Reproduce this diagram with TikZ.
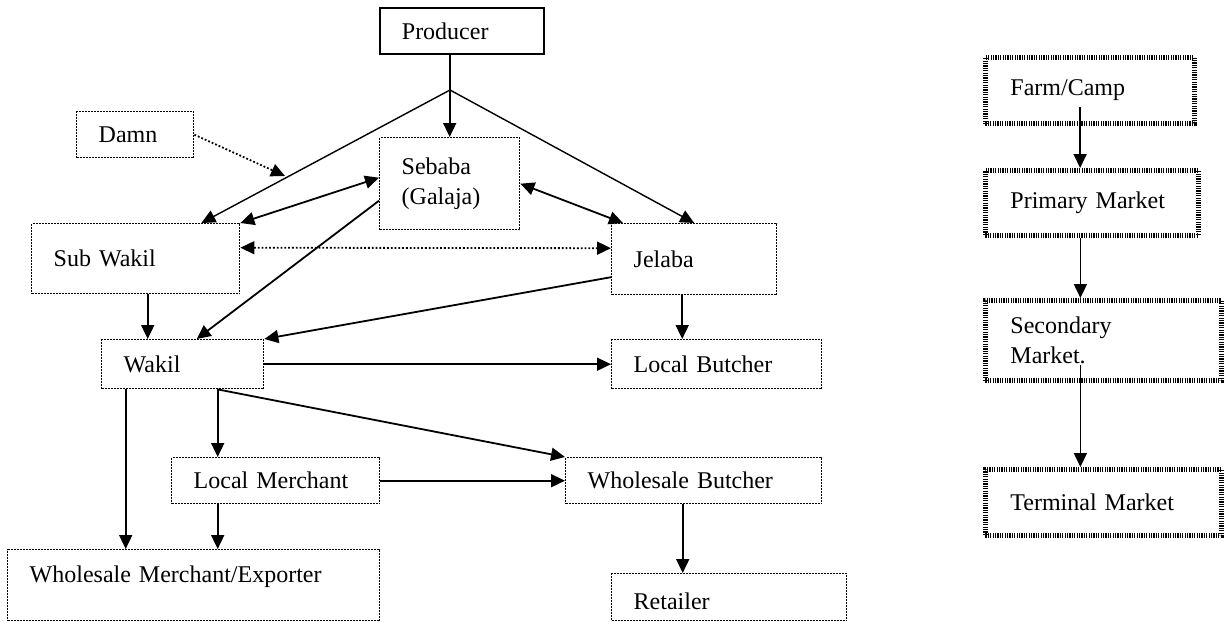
\documentclass[tikz,border=0pt]{standalone}
\usepackage{fontspec}
\setmainfont{Liberation Serif}
\usetikzlibrary{arrows.meta}
\tikzset{
  box/.style={draw, line width=0.7pt, dash pattern=on 1pt off 0.5pt, anchor=north west,
    inner xsep=11pt, inner ysep=2pt, align=left, font=\fontsize{12}{15}\selectfont},
  mbox/.style={box, line width=2.4pt, dash pattern=on 0.6pt off 0.6pt, inner xsep=12.5pt},
  arr/.style={-{Triangle[length=7pt,width=6.5pt]}, line width=0.9pt},
  dbl/.style={{Triangle[length=7pt,width=6.5pt]}-{Triangle[length=7pt,width=6.5pt]}, line width=0.9pt},
}
\begin{document}
\begin{tikzpicture}[x=0.5pt,y=-0.5pt]
  \useasboundingbox (0,0) rectangle (1225,621);
  % channel
  \node[box,solid,line width=0.9pt,text width=60pt,minimum height=23pt] (P) at (379,7) {Producer};
  \node[box,text width=36.5pt,minimum height=23pt] (D) at (76,111) {Damn};
  \node[box,text width=48pt,minimum height=46pt] (S) at (379,137) {Sebaba\\(Galaja)};
  \node[box,text width=82pt,minimum height=35pt] (SW) at (31,223) {Sub Wakil};
  \node[box,text width=60.5pt,minimum height=35.5pt] (J) at (611,223) {Jelaba};
  \node[box,text width=59pt,minimum height=24.5pt] (W) at (101,339) {Wakil};
  \node[box,text width=83pt,minimum height=24.5pt] (LB) at (611,339) {Local Butcher};
  \node[box,text width=82pt,minimum height=23pt] (LM) at (171,457) {Local Merchant};
  \node[box,text width=106pt,minimum height=23pt] (WB) at (565,457) {Wholesale Butcher};
  \node[box,text width=164pt,minimum height=35.5pt,text depth=11pt] (WM) at (7,549) {Wholesale Merchant/Exporter};
  \node[box,text width=95.5pt,minimum height=23.5pt,text height=12pt] (R) at (611,573) {Retailer};
  \coordinate (fork) at (450,90);
  \coordinate (dend) at (285,176);
  \draw[arr] (P.south -| S.north) -- (S.north);
  \draw[arr,line width=0.7pt] (fork) -- ([xshift=-19.5pt]SW.north east);
  \draw[arr,line width=0.7pt] (fork) -- (J.north);
  \draw[arr,densely dotted] (D.east) -- (dend);
  \draw[dbl] (SW.north east) -- ([yshift=3pt]S.west);
  \draw[dbl] (S.east) -- ([xshift=6pt]J.north west);
  \draw[dbl,densely dotted] ([yshift=5.5pt]SW.east) -- ([yshift=5.5pt]J.west);
  \draw[arr] ([yshift=-8.5pt]S.west) -- ([xshift=7pt]W.north);
  \draw[arr] ([yshift=-9pt]J.west) -- (W.north east);
  \draw[arr] ([xshift=6pt]SW.south) -- ([xshift=6pt]SW.south |- W.north);
  \draw[arr] ([xshift=-6pt]J.south) -- ([xshift=-6pt]J.south |- LB.north);
  \draw[arr] (W.east) -- (W.east -| LB.west);
  \draw[arr] ([xshift=-28.5pt]W.south) -- ([xshift=-28.5pt]W.south |- WM.north);
  \draw[arr] ([xshift=17.5pt]W.south) -- ([xshift=17.5pt]W.south |- LM.north);
  \draw[arr] ([xshift=17.5pt]W.south) -- (WB.north west);
  \draw[arr] (LM.east) -- (WB.west);
  \draw[arr] ([xshift=-29pt]LM.south) -- ([xshift=-29pt]LM.south |- WM.north);
  \draw[arr] ([xshift=-5.5pt]WB.south) -- ([xshift=-5.5pt]WB.south |- R.north);
  % markets
  \node[mbox,text width=79.5pt,minimum height=33pt] (F) at (983,55) {Farm/Camp};
  \node[mbox,text width=81.5pt,minimum height=32.5pt] (PM) at (983,168) {Primary Market};
  \node[mbox,text width=93pt,minimum height=40pt] (SM) at (983,298) {Secondary\\Market.};
  \node[mbox,text width=93pt,minimum height=33pt] (TM) at (983,467) {Terminal Market};
  \draw[arr] ([xshift=-4.9pt,yshift=-8.5pt]F.center) -- ([xshift=-4.9pt]F.center |- PM.north);
  \draw[arr] ([xshift=-5.75pt]PM.south) -- ([xshift=-5.75pt]PM.south |- SM.north);
  \draw[arr] ([xshift=-11.5pt,yshift=-12.5pt]SM.center) -- ([xshift=-11.5pt]SM.center |- TM.north);
\end{tikzpicture}
\end{document}
